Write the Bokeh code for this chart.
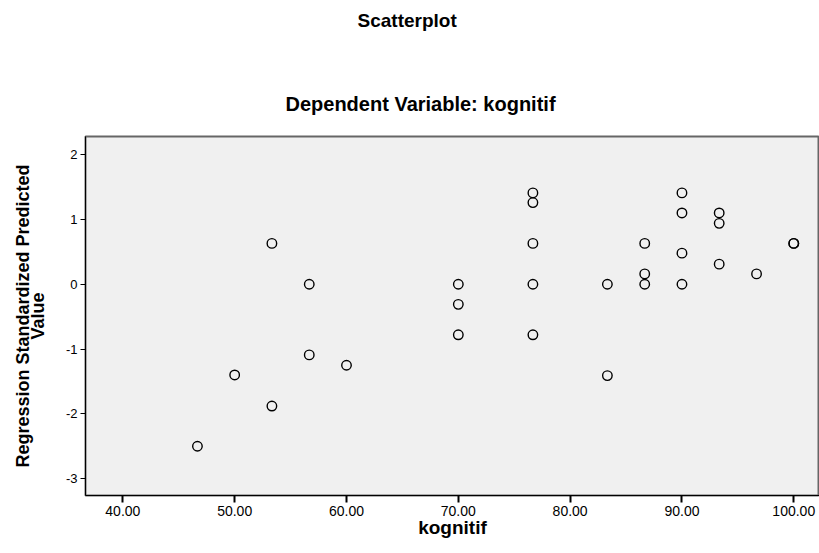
from bokeh.plotting import figure
from bokeh.models import FixedTicker, PrintfTickFormatter, Title, LinearAxis
from bokeh.embed import file_html
from bokeh.resources import INLINE

# Data
kognitif = [46.67, 50.00, 53.33, 53.33, 56.67, 56.67, 60.00,
            70.00, 70.00, 70.00,
            76.67, 76.67, 76.67, 76.67, 76.67,
            83.33, 83.33,
            86.67, 86.67, 86.67,
            90.00, 90.00, 90.00, 90.00,
            93.33, 93.33, 93.33,
            96.67, 100.00, 100.00]
predicted = [-2.50, -1.40, 0.63, -1.88, 0.00, -1.09, -1.25,
             0.00, -0.31, -0.78,
             1.41, 1.26, 0.63, 0.00, -0.78,
             0.00, -1.41,
             0.63, 0.16, 0.00,
             1.41, 1.10, 0.48, 0.00,
             1.10, 0.94, 0.31,
             0.16, 0.63, 0.63]
x_ticks = [40, 50, 60, 70, 80, 90, 100]
y_ticks = [-3, -2, -1, 0, 1, 2]
main_title = "Scatterplot"
sub_title = "Dependent Variable: kognitif"

FONT = "Liberation Sans"

p = figure(width=811, height=545, output_backend="svg", toolbar_location=None,
           x_range=(36.66, 102.3), y_range=(-3.26, 2.28),
           frame_width=734, frame_height=359,
           min_border_left=77, min_border_right=0, min_border_top=128, min_border_bottom=58)
p.background_fill_color = "#f0f0f0"
p.border_fill_color = "white"
p.outline_line_color = "#666666"
p.outline_line_width = 2
p.xgrid.visible = False
p.ygrid.visible = False

# title panels, stacked outward from the frame
p.add_layout(Title(text=sub_title, align="left", offset=200,
                   text_font=FONT, text_font_size="20px", text_font_style="bold",
                   text_color="black", standoff=44), "above")
p.add_layout(Title(text=" ", align="left", text_font=FONT, text_font_size="10px",
                   standoff=18), "above")
p.add_layout(Title(text=main_title, align="left", offset=272,
                   text_font=FONT, text_font_size="19px", text_font_style="bold",
                   text_color="black", standoff=14), "above")

p.scatter(kognitif, predicted, marker="circle", size=9.5, fill_color=None,
          line_color="black", line_width=1.4)

xa = p.xaxis[0]
xa.ticker = FixedTicker(ticks=x_ticks)
xa.formatter = PrintfTickFormatter(format="%.2f")
xa.axis_label = "kognitif"
xa.axis_label_text_font = FONT
xa.axis_label_text_font_size = "19px"
xa.axis_label_text_font_style = "bold"
xa.axis_label_text_color = "black"
xa.axis_label_standoff = -2
xa.major_label_text_font = FONT
xa.major_label_text_font_size = "14px"
xa.major_label_text_color = "black"
xa.major_label_standoff = 3
xa.major_tick_out = 7
xa.major_tick_in = 0
xa.major_tick_line_width = 2
xa.major_tick_line_color = "black"
xa.minor_tick_line_color = None
xa.axis_line_color = "black"

ya = p.yaxis[0]
ya.ticker = FixedTicker(ticks=y_ticks)
ya.formatter = PrintfTickFormatter(format="%d")
ya.axis_label = "Regression Standardized Predicted\nValue"
ya.axis_label_text_font = FONT
ya.axis_label_text_font_size = "18px"
ya.axis_label_text_font_style = "bold"
ya.axis_label_text_color = "black"
ya.axis_label_text_line_height = 0.75
ya.axis_label_standoff = 15
ya.major_label_text_font = FONT
ya.major_label_text_font_size = "13px"
ya.major_label_text_color = "black"
ya.major_label_standoff = 3
ya.major_tick_out = 5
ya.major_tick_in = 0
ya.major_tick_line_color = "black"
ya.minor_tick_line_color = None
ya.axis_line_color = "black"

# empty outer axis used only as left padding
pad = LinearAxis(ticker=FixedTicker(ticks=[]), axis_line_color=None,
                 major_tick_line_color=None, minor_tick_line_color=None,
                 major_tick_out=0, minor_tick_out=0, major_label_text_font_size="0px",
                 axis_label=" ", axis_label_text_font_size="1px",
                 axis_label_standoff=5)
p.add_layout(pad, "left")

open("out.html", "w").write(file_html(p, INLINE))
